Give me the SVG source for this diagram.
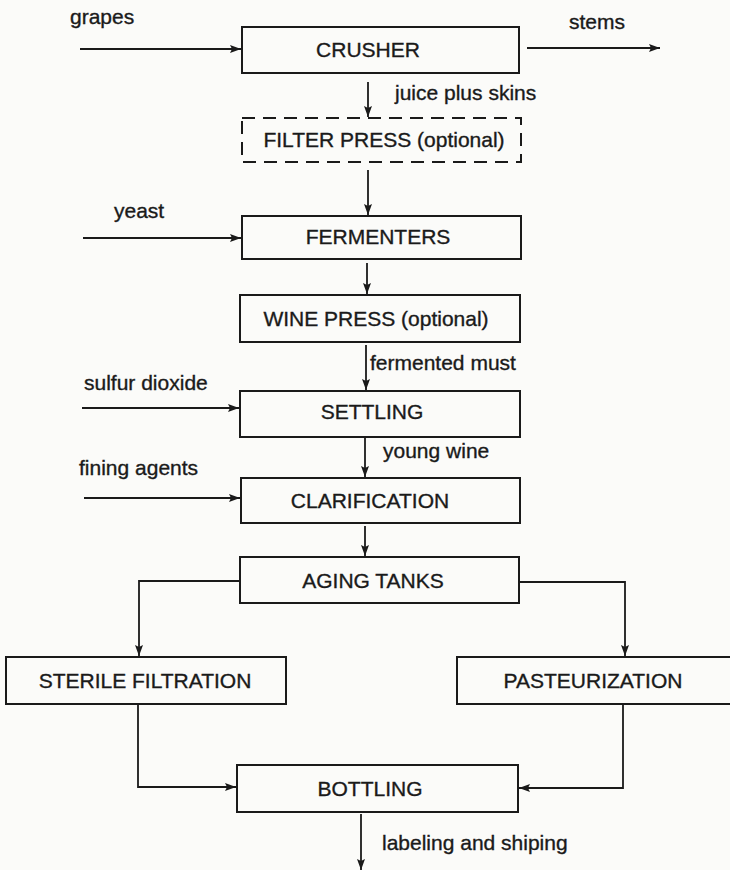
<svg xmlns="http://www.w3.org/2000/svg" width="730" height="870" viewBox="0 0 730 870">
<defs>
<marker id="ah" markerUnits="userSpaceOnUse" markerWidth="12" markerHeight="10" refX="11" refY="4" orient="auto">
<path d="M0,0 L11,4 L0,8 L2,4 Z" fill="#1a1a1a"/>
</marker>
<style>
.box{fill:none;stroke:#1a1a1a;stroke-width:2}
.dash{stroke-dasharray:13 8}
.t{font-family:"Liberation Sans",Arial,sans-serif;font-size:21px;fill:#1a1a1a;stroke:#1a1a1a;stroke-width:0.35}
.c{text-anchor:middle}
.ln{fill:none;stroke:#1a1a1a;stroke-width:1.8;marker-end:url(#ah)}
</style>
</defs>
<rect width="730" height="870" fill="#fbfbf9"/>
<g id="crusher"><rect class="box" x="242" y="27" width="277" height="46"/><text class="t c" x="368" y="57">CRUSHER</text></g>
<g id="filter-press"><rect class="box dash" x="242" y="118" width="279" height="44"/><text class="t c" x="384" y="147">FILTER PRESS (optional)</text></g>
<g id="fermenters"><rect class="box" x="242" y="216" width="279" height="43"/><text class="t c" x="378" y="244">FERMENTERS</text></g>
<g id="wine-press"><rect class="box" x="240" y="295" width="280" height="47"/><text class="t c" x="376" y="326">WINE PRESS (optional)</text></g>
<g id="settling"><rect class="box" x="240" y="391" width="280" height="46"/><text class="t c" x="372" y="419">SETTLING</text></g>
<g id="clarification"><rect class="box" x="241" y="478" width="279" height="45"/><text class="t c" x="370" y="508">CLARIFICATION</text></g>
<g id="aging-tanks"><rect class="box" x="240" y="557" width="279" height="46"/><text class="t c" x="373" y="588">AGING TANKS</text></g>
<g id="sterile-filtration"><rect class="box" x="6" y="657" width="280" height="47"/><text class="t c" x="145" y="688">STERILE FILTRATION</text></g>
<g id="pasteurization"><rect class="box" x="457" y="657" width="280" height="47"/><text class="t c" x="593" y="688">PASTEURIZATION</text></g>
<g id="bottling"><rect class="box" x="237" y="765" width="281" height="47"/><text class="t c" x="370" y="796">BOTTLING</text></g>
<g id="labels">
<text class="t" x="70" y="24">grapes</text>
<text class="t" x="569" y="29">stems</text>
<text class="t" x="395" y="100">juice plus skins</text>
<text class="t" x="114" y="218">yeast</text>
<text class="t" x="370" y="370">fermented must</text>
<text class="t" x="84" y="390">sulfur dioxide</text>
<text class="t" x="383" y="458">young wine</text>
<text class="t" x="79" y="475">fining agents</text>
<text class="t" x="382" y="850">labeling and shiping</text>
</g>
<g id="connectors">
<line class="ln" x1="80" y1="49" x2="241" y2="49"/>
<line class="ln" x1="527" y1="48" x2="660" y2="48"/>
<line class="ln" x1="368" y1="82" x2="368" y2="117"/>
<line class="ln" x1="368" y1="170" x2="368" y2="215"/>
<line class="ln" x1="83" y1="238" x2="241" y2="238"/>
<line class="ln" x1="367" y1="263" x2="367" y2="294"/>
<line class="ln" x1="366" y1="345" x2="366" y2="390"/>
<line class="ln" x1="82" y1="408" x2="239" y2="408"/>
<line class="ln" x1="365" y1="438" x2="365" y2="477"/>
<line class="ln" x1="84" y1="498" x2="240" y2="498"/>
<line class="ln" x1="365" y1="526" x2="365" y2="556"/>
<path class="ln" d="M240,581 H139 V656"/>
<path class="ln" d="M519,582 H625 V656"/>
<path class="ln" d="M138,705 V787 H236"/>
<path class="ln" d="M623,704 V788 H519"/>
<line class="ln" x1="361" y1="814" x2="361" y2="870"/>
</g>
</svg>
